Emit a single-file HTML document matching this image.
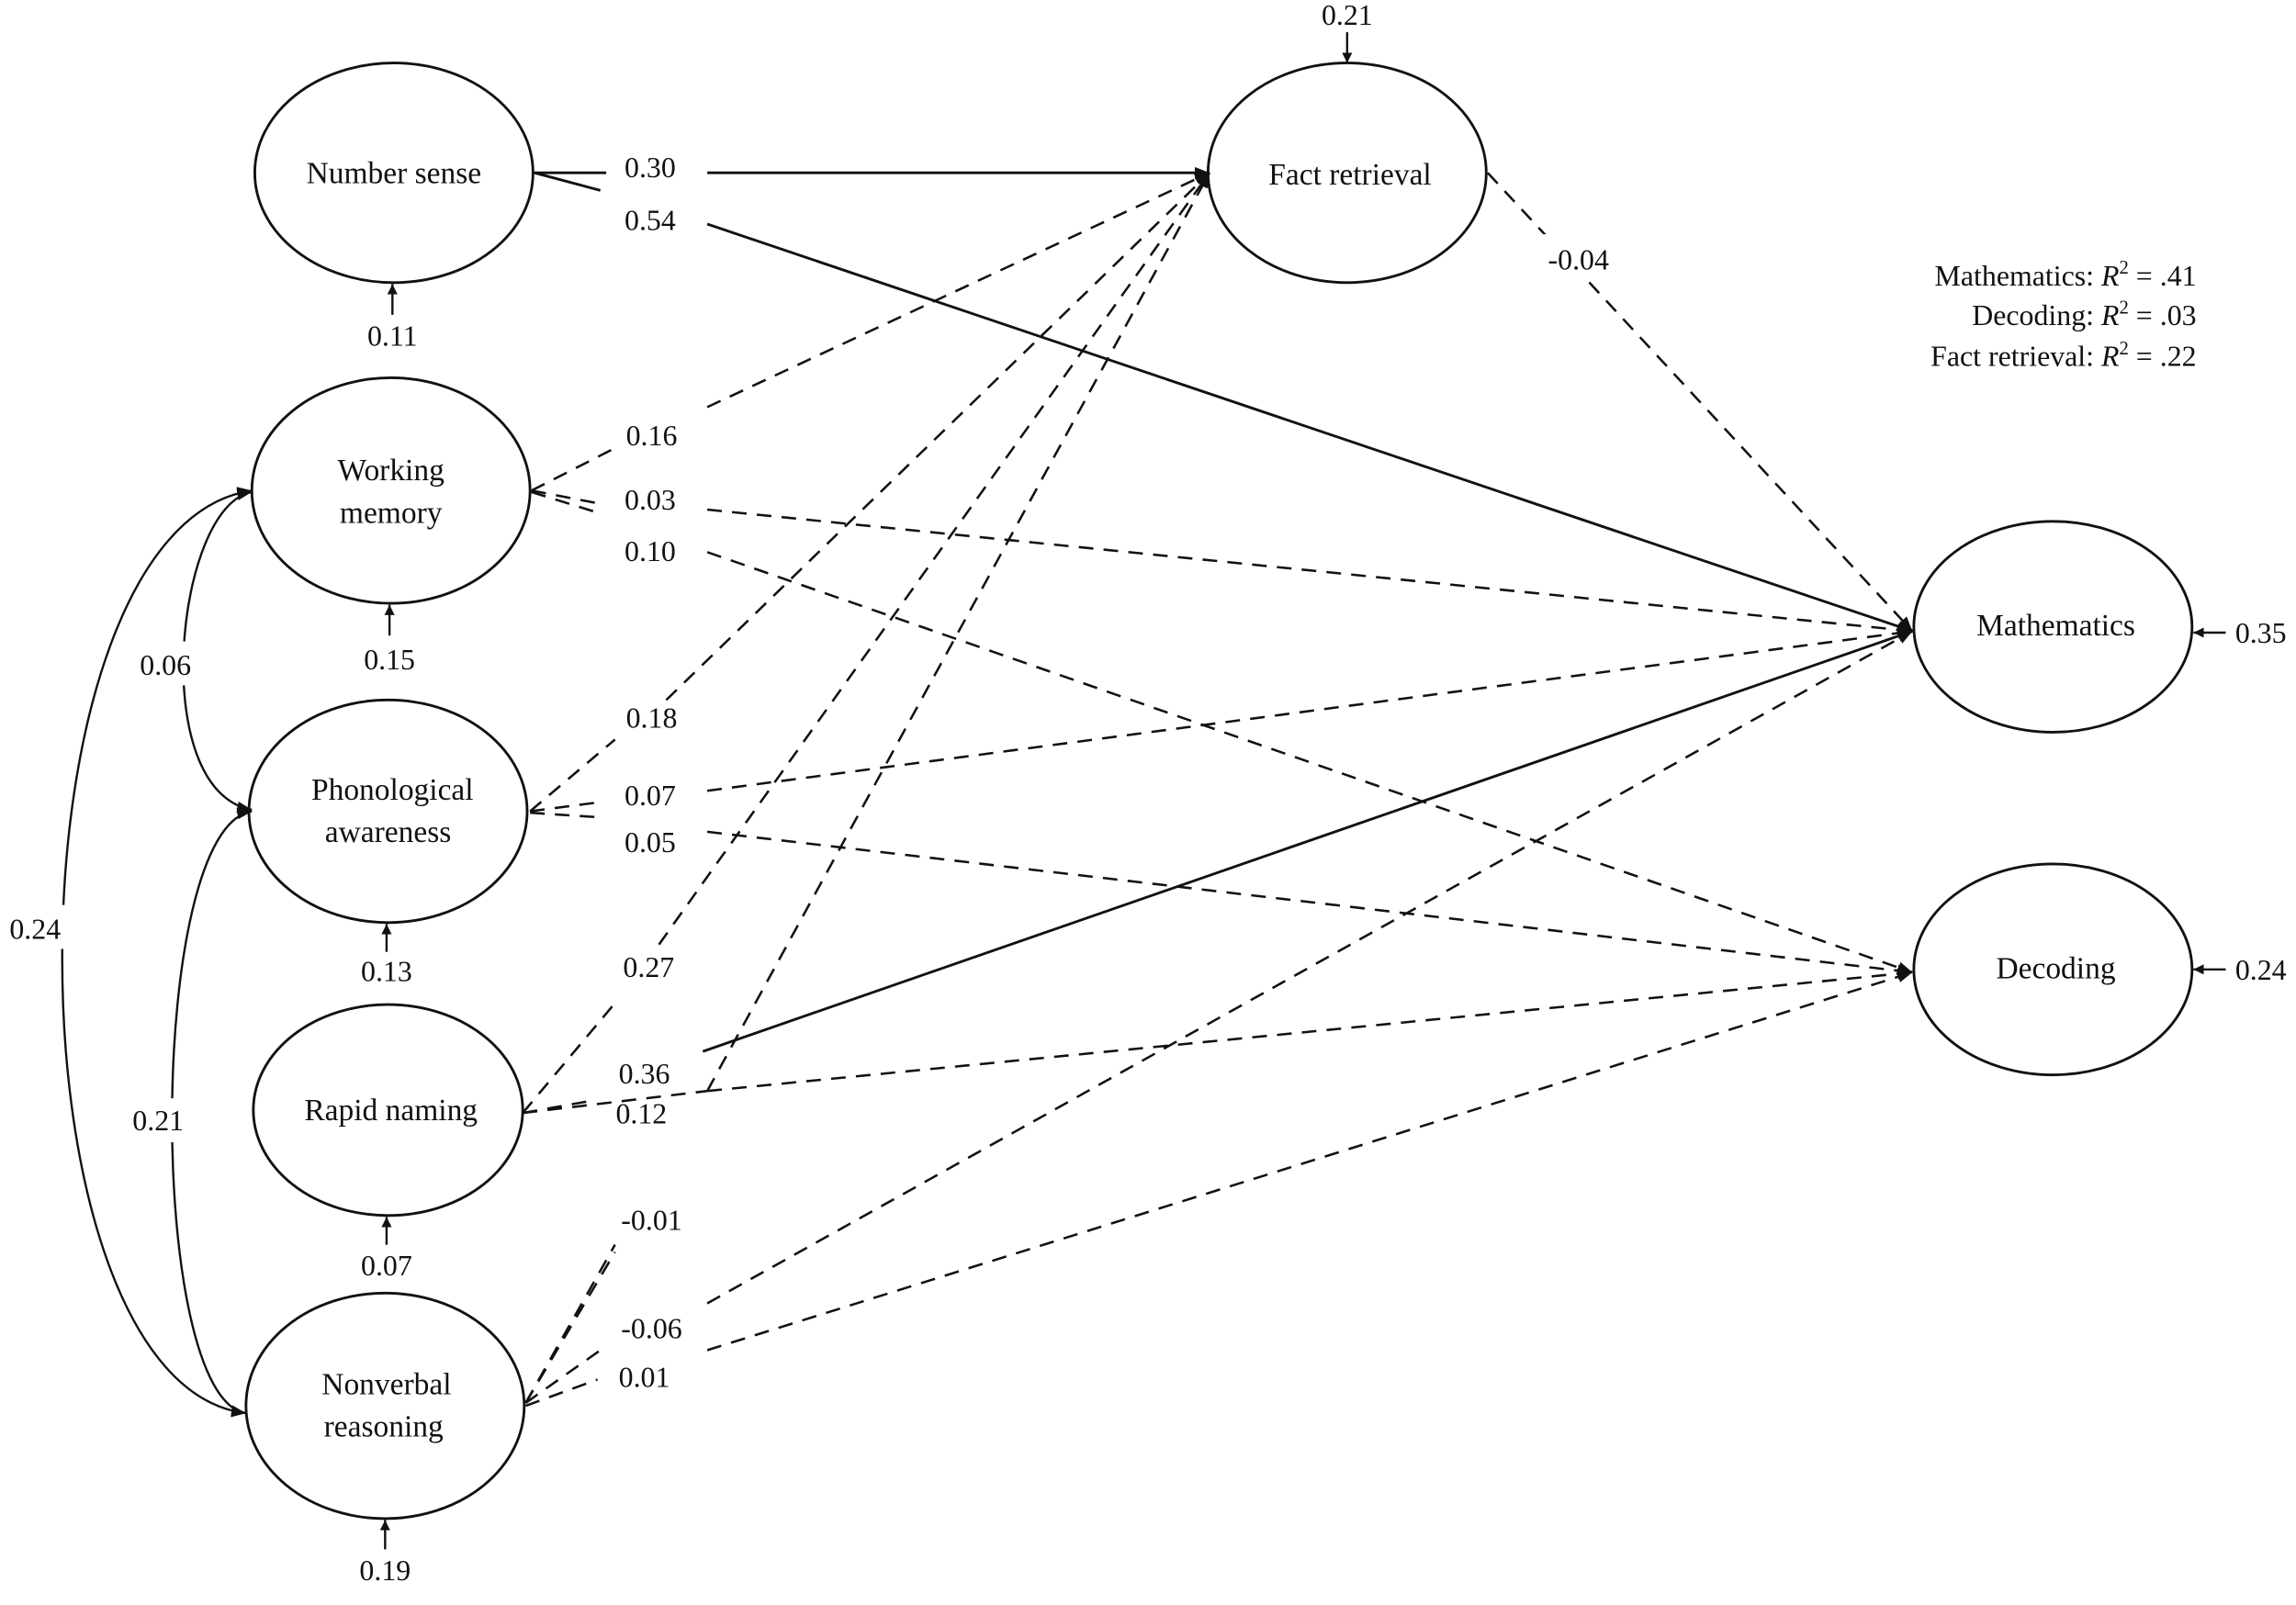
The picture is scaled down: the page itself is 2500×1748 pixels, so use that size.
<!DOCTYPE html>
<html><head><meta charset="utf-8"><style>
html,body{margin:0;padding:0;background:#fff;}
svg{display:block}
text{font-family:"Liberation Serif",serif;fill:#111;}
</style></head><body>
<svg width="2500" height="1748" viewBox="0 0 1568 1096" preserveAspectRatio="none" xmlns="http://www.w3.org/2000/svg">
<defs>
<marker id="a" viewBox="0 0 10 10" refX="10" refY="5" markerWidth="7" markerHeight="7" orient="auto-start-reverse" markerUnits="userSpaceOnUse">
<path d="M0,0 L10,5 L0,10 z" fill="#111"/></marker>
<marker id="b" viewBox="0 0 10 10" refX="10" refY="5" markerWidth="10" markerHeight="10" orient="auto-start-reverse" markerUnits="userSpaceOnUse">
<path d="M0,1 L10,5 L0,9 z" fill="#111"/></marker>
</defs>
<g fill="none" stroke="#111" stroke-width="1.8">
<ellipse cx="269" cy="118" rx="95" ry="75" fill="#fff"/>
<ellipse cx="267" cy="335" rx="95" ry="77" fill="#fff"/>
<ellipse cx="265" cy="554" rx="95" ry="76" fill="#fff"/>
<ellipse cx="265" cy="758" rx="92" ry="72" fill="#fff"/>
<ellipse cx="263" cy="960" rx="95" ry="77" fill="#fff"/>
<ellipse cx="920" cy="118" rx="95" ry="75" fill="#fff"/>
<ellipse cx="1402" cy="428" rx="95" ry="72" fill="#fff"/>
<ellipse cx="1402" cy="662" rx="95" ry="72" fill="#fff"/>
</g>
<g fill="none" stroke="#111" stroke-width="1.8">
<!-- solid -->
<polyline points="365,118 414,118"/><polyline points="483,118 826,118" marker-end="url(#b)"/>
<polyline points="365,118 410,130"/><polyline points="483,153 1306,431" marker-end="url(#b)"/>
<polyline points="480,718 1306,431" marker-end="url(#b)"/>
</g>
<g fill="none" stroke="#111" stroke-width="1.6" stroke-dasharray="10,7">
<polyline points="363,335 418,307"/><polyline points="483,278 826,118" marker-end="url(#b)"/>
<polyline points="363,335 410,344"/><polyline points="483,348 1306,431" marker-end="url(#b)"/>
<polyline points="363,336 408,350"/><polyline points="483,377 1306,664" marker-end="url(#b)"/>
<polyline points="362,554 420,505"/><polyline points="455,478 826,118" marker-end="url(#b)"/>
<polyline points="362,554 408,548"/><polyline points="483,540 1306,431" marker-end="url(#b)"/>
<polyline points="362,555 408,558"/><polyline points="483,568 1306,664" marker-end="url(#b)"/>
<polyline points="357,760 420,685"/><polyline points="450,645 826,118" marker-end="url(#b)"/>
<polyline points="357,760 402,752"/><polyline points="483,745 1306,664" marker-end="url(#b)"/>
<polyline points="357,760 483,745"/>
<polyline points="359,958 420,855"/><polyline points="483,745 826,118" marker-end="url(#b)"/>
<polyline points="359,958 420,850"/>
<polyline points="359,958 410,922"/><polyline points="483,890 1306,431" marker-end="url(#b)"/>
<polyline points="359,960 408,942"/><polyline points="483,922 1306,664" marker-end="url(#b)"/>
<polyline points="1016,118 1306,431" marker-end="url(#b)"/>
</g>
<!-- residual arrows -->
<g stroke="#111" stroke-width="1.5" fill="none">
<line x1="268" y1="215" x2="268" y2="194" marker-end="url(#a)"/>
<line x1="266" y1="434" x2="266" y2="413" marker-end="url(#a)"/>
<line x1="264" y1="650" x2="264" y2="631" marker-end="url(#a)"/>
<line x1="264" y1="850" x2="264" y2="831" marker-end="url(#a)"/>
<line x1="263" y1="1058" x2="263" y2="1038" marker-end="url(#a)"/>
<line x1="920" y1="22" x2="920" y2="43" marker-end="url(#a)"/>
<line x1="1520" y1="432" x2="1498" y2="432" marker-end="url(#a)"/>
<line x1="1520" y1="662" x2="1498" y2="662" marker-end="url(#a)"/>
<!-- covariances -->
<path d="M172,336 C120,345 100,540 172,553" marker-start="url(#b)" marker-end="url(#b)"/>
<path d="M172,554 C100,565 100,955 168,965" marker-start="url(#b)" marker-end="url(#b)"/>
<path d="M172,335 C0,360 0,945 168,965" marker-start="url(#b)" marker-end="url(#b)"/>
</g>
<!-- label backgrounds -->
<g fill="#fff">
<rect x="86" y="438" width="54" height="30"/>
<rect x="82" y="750" width="54" height="30"/>
<rect x="0" y="618" width="50" height="30"/>
<rect x="1050" y="160" width="56" height="30"/>
</g>
<g font-size="21" text-anchor="middle">
<text x="269" y="125">Number sense</text>
<text x="267" y="328">Working</text><text x="267" y="357">memory</text>
<text x="268" y="546">Phonological</text><text x="265" y="575">awareness</text>
<text x="267" y="765">Rapid naming</text>
<text x="264" y="952">Nonverbal</text><text x="262" y="981">reasoning</text>
<text x="922" y="126">Fact retrieval</text>
<text x="1404" y="434">Mathematics</text>
<text x="1404" y="668">Decoding</text>
</g>
<g font-size="20" text-anchor="middle">
<text x="444" y="121">0.30</text>
<text x="444" y="157">0.54</text>
<text x="445" y="304">0.16</text>
<text x="444" y="348">0.03</text>
<text x="444" y="383">0.10</text>
<text x="445" y="497">0.18</text>
<text x="444" y="550">0.07</text>
<text x="444" y="582">0.05</text>
<text x="443" y="667">0.27</text>
<text x="440" y="740">0.36</text>
<text x="438" y="767">0.12</text>
<text x="445" y="840">-0.01</text>
<text x="445" y="914">-0.06</text>
<text x="440" y="947">0.01</text>
<text x="1078" y="184">-0.04</text>
<text x="268" y="236">0.11</text>
<text x="266" y="457">0.15</text>
<text x="264" y="670">0.13</text>
<text x="264" y="871">0.07</text>
<text x="263" y="1079">0.19</text>
<text x="920" y="17">0.21</text>
<text x="1544" y="439">0.35</text>
<text x="1544" y="669">0.24</text>
<text x="113" y="461">0.06</text>
<text x="108" y="772">0.21</text>
<text x="24" y="641">0.24</text>
</g>
<g font-size="20" text-anchor="end">
<text x="1500" y="195">Mathematics: <tspan font-style="italic">R</tspan><tspan font-size="13" dy="-8">2</tspan><tspan dy="8"> = .41</tspan></text>
<text x="1500" y="222">Decoding: <tspan font-style="italic">R</tspan><tspan font-size="13" dy="-8">2</tspan><tspan dy="8"> = .03</tspan></text>
<text x="1500" y="250">Fact retrieval: <tspan font-style="italic">R</tspan><tspan font-size="13" dy="-8">2</tspan><tspan dy="8"> = .22</tspan></text>
</g>
</svg>
</body></html>
